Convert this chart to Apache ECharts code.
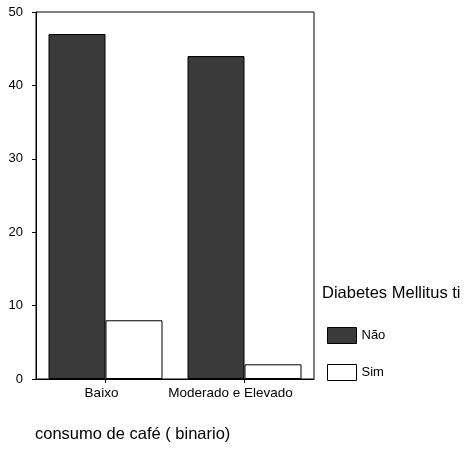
<!DOCTYPE html>
<html><head><meta charset="utf-8">
<script src="https://cdn.jsdelivr.net/npm/echarts@6/dist/echarts.min.js"></script>
<style>html,body{margin:0;padding:0;background:#fff}#c{width:465px;height:449px}</style>
</head><body><div id="c"></div>
<script>
const categories = ["Baixo", "Moderado e Elevado"];
const seriesNames = ["Não", "Sim"];
const naoValues = [47, 44];
const simValues = [8, 2];
const yTicks = [0, 10, 20, 30, 40, 50];
const legendTitle = "Diabetes Mellitus ti";
const xTitle = "consumo de café ( binario)";

const labelPadRight = [8, 28];
const chart = echarts.init(document.getElementById('c'), null, {renderer: 'canvas'});
const font = 'Liberation Sans, Arial, sans-serif';
chart.setOption({
  animation: false,
  backgroundColor: '#fff',
  textStyle: {fontFamily: font},
  title: [
    {text: legendTitle, left: 322, top: 285, padding: 0,
     textStyle: {fontSize: 16.5, fontWeight: 'normal', color: '#000', fontFamily: font}},
    {text: xTitle, left: 35, top: 426, padding: 0,
     textStyle: {fontSize: 16.5, fontWeight: 'normal', color: '#000', fontFamily: font}}
  ],
  legend: {
    orient: 'vertical', left: 327, top: 327, padding: 0,
    itemWidth: 29, itemHeight: 16, itemGap: 20,
    icon: 'rect', itemStyle: {borderColor: '#000', borderWidth: 1},
    textStyle: {fontSize: 13, color: '#000', fontFamily: font},
    data: seriesNames
  },
  grid: {left: 36, right: 151, top: 12, bottom: 70, show: true, borderColor: '#000', borderWidth: 1},
  xAxis: {
    type: 'category',
    data: categories.map((c, i) => ({value: c, textStyle: {padding: [0, labelPadRight[i], 0, 0]}})),
    axisLine: {lineStyle: {color: '#000'}},
    axisTick: {show: true, alignWithLabel: true, length: 4, lineStyle: {color: '#000'}},
    axisLabel: {fontSize: 13.5, color: '#000', margin: 7, interval: 0, fontFamily: font}
  },
  yAxis: {
    type: 'value', min: yTicks[0], max: yTicks[yTicks.length-1], interval: 10,
    splitLine: {show: false},
    axisLine: {show: true, lineStyle: {color: '#000'}},
    axisTick: {show: true, length: 4, lineStyle: {color: '#000'}},
    axisLabel: {fontSize: 13, color: '#000', margin: 13, fontFamily: font}
  },
  series: [
    {name: seriesNames[0], type: 'bar', data: naoValues, barGap: '0%', barCategoryGap: '18%',
     itemStyle: {color: '#3a3a3a', borderColor: '#000', borderWidth: 1}},
    {name: seriesNames[1], type: 'bar', data: simValues,
     itemStyle: {color: '#ffffff', borderColor: '#000', borderWidth: 1}}
  ]
});
</script></body></html>
